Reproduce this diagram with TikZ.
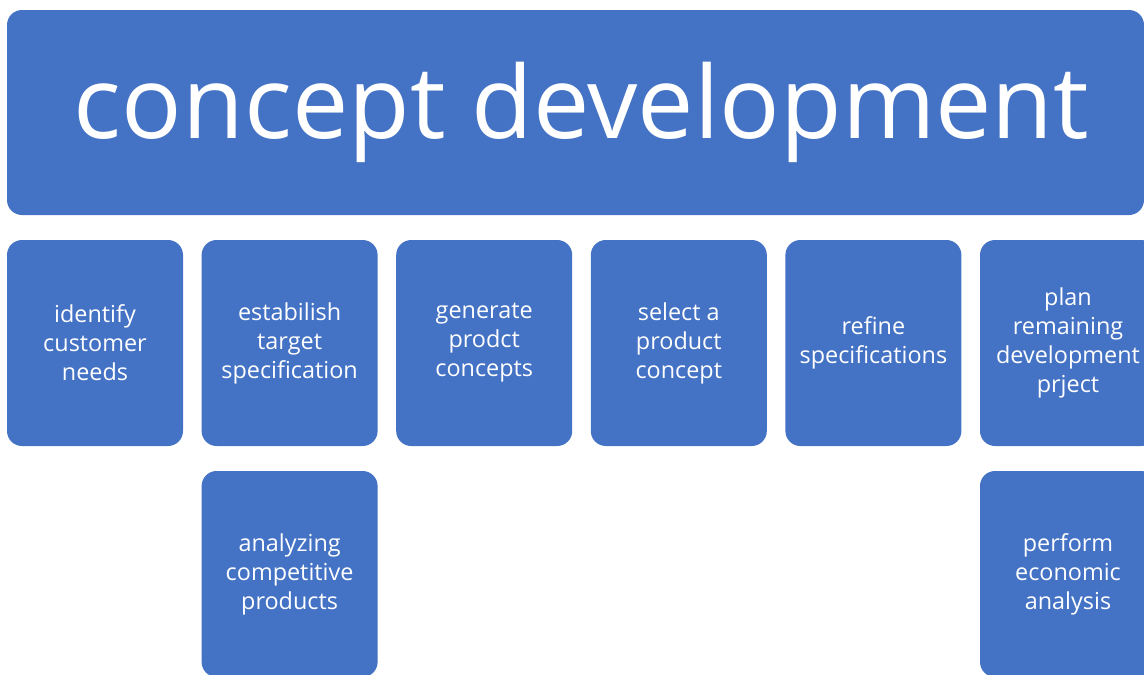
\documentclass[tikz,border=0pt]{standalone}
\usepackage{fontspec}
\setmainfont{Open Sans}
\usetikzlibrary{positioning}
\definecolor{officeblue}{HTML}{4472C4}

\tikzset{
  phase/.style={rectangle,rounded corners=15pt,fill=officeblue,text=white,
    minimum width=1137pt,minimum height=205pt,inner sep=0pt,outer sep=0pt,
    font=\fontsize{100.5}{120}\selectfont},
  task/.style={rectangle,rounded corners=15pt,fill=officeblue,text=white,
    minimum width=176pt,minimum height=206pt,inner sep=0pt,outer sep=0pt,
    align=center,font=\fontsize{23.4}{29}\selectfont}
}

\begin{document}
\begin{tikzpicture}[x=1pt,y=-1pt]
      \useasboundingbox (0,0) rectangle (1144,675);
      \clip (0,0) rectangle (1144,675);

      % top banner
      \node [phase] (concept) at (575.5,112.5) {\hspace*{12pt}concept development};

      % first row of steps
      \node [task] (needs) at (95,343) {identify\\customer\\needs};
      \node [task,right=18.6pt of needs] (target) {estabilish\\target\\specification};
      \node [task,right=18.6pt of target] (generate) {generate\\prodct\\concepts};
      \node [task,right=18.6pt of generate] (select) {select a\\product\\concept};
      \node [task,right=18.6pt of select] (refine) {refine\\specifications};
      \node [task,right=18.6pt of refine] (plan) {plan\\remaining\\development\\prject};

      % second row
      \node [task,below=25pt of target] (analyze) {analyzing\\competitive\\products};
      \node [task,below=25pt of plan] (economic) {perform\\economic\\analysis};
    \end{tikzpicture}
\end{document}
